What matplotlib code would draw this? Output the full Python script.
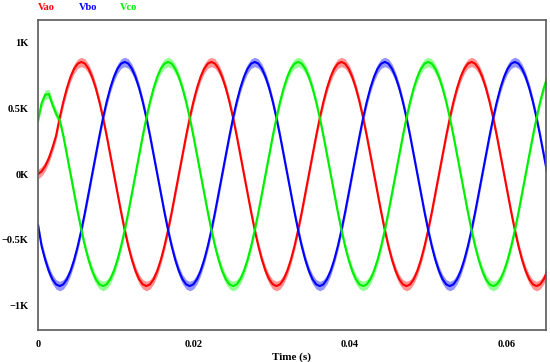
import matplotlib
matplotlib.use("Agg")
import matplotlib.pyplot as plt
import numpy as np

# sample times: every 1/2160 s (10 electrical degrees at 60 Hz)
n_samples = 142
dt = 1.0 / 2160.0

vao = [0, 20, 60, 120, 200, 292, 428, 550, 655, 740, 803, 842,
       855, 842, 803, 740, 655, 550, 428, 292, 148, 0, -148, -292, -428, -550, -655, -740, -803, -842, -855, -842, -803, -740, -655, -550, -428, -292, -148, 0, 148, 292, 428, 550, 655, 740, 803, 842,
       855, 842, 803, 740, 655, 550, 428, 292, 148, 0, -148, -292, -428, -550, -655, -740, -803, -842, -855, -842, -803, -740, -655, -550, -428, -292, -148, 0, 148, 292, 428, 550, 655, 740, 803, 842,
       855, 842, 803, 740, 655, 550, 428, 292, 148, 0, -148, -292, -428, -550, -655, -740, -803, -842, -855, -842, -803, -740, -655, -550, -428, -292, -148, 0, 148, 292, 428, 550, 655, 740, 803, 842,
       855, 842, 803, 740, 655, 550, 428, 292, 148, 0, -148, -292, -428, -550, -655, -740, -803, -842, -855, -842, -803, -740]

vbo = [-390, -550, -655, -740, -803, -842, -855, -842, -803, -740, -655, -550, -428, -292, -148, 0, 148, 292, 428, 550, 655, 740, 803, 842,
       855, 842, 803, 740, 655, 550, 428, 292, 148, 0, -148, -292, -428, -550, -655, -740, -803, -842, -855, -842, -803, -740, -655, -550, -428, -292, -148, 0, 148, 292, 428, 550, 655, 740, 803, 842,
       855, 842, 803, 740, 655, 550, 428, 292, 148, 0, -148, -292, -428, -550, -655, -740, -803, -842, -855, -842, -803, -740, -655, -550, -428, -292, -148, 0, 148, 292, 428, 550, 655, 740, 803, 842,
       855, 842, 803, 740, 655, 550, 428, 292, 148, 0, -148, -292, -428, -550, -655, -740, -803, -842, -855, -842, -803, -740, -655, -550, -428, -292, -148, 0, 148, 292, 428, 550, 655, 740, 803, 842,
       855, 842, 803, 740, 655, 550, 428, 292, 148, 0]

vco = [410, 540, 605, 610, 530, 460, 410,
       292, 148, 0, -148, -292, -428, -550, -655, -740, -803, -842, -855, -842, -803, -740, -655, -550, -428, -292, -148, 0, 148, 292, 428, 550, 655, 740, 803, 842,
       855, 842, 803, 740, 655, 550, 428, 292, 148, 0, -148, -292, -428, -550, -655, -740, -803, -842, -855, -842, -803, -740, -655, -550, -428, -292, -148, 0, 148, 292, 428, 550, 655, 740, 803, 842,
       855, 842, 803, 740, 655, 550, 428, 292, 148, 0, -148, -292, -428, -550, -655, -740, -803, -842, -855, -842, -803, -740, -655, -550, -428, -292, -148, 0, 148, 292, 428, 550, 655, 740, 803, 842,
       855, 842, 803, 740, 655, 550, 428, 292, 148, 0, -148, -292, -428, -550, -655, -740, -803, -842, -855, -842, -803, -740, -655, -550, -428, -292, -148, 0, 148, 292, 428, 550, 655, 740]

ripple = 36  # half-width of switching ripple band (V)

series_names = ["Vao", "Vbo", "Vco"]
series_values = [vao, vbo, vco]
line_colors = ["#FF0000", "#0000FF", "#00EE00"]
band_colors = ["#FF8080", "#8080FF", "#80FF80"]

xticks = [0, 0.02, 0.04, 0.06]
xtick_labels = ["0", "0.02", "0.04", "0.06"]
yticks = [-1000, -500, 0, 500, 1000]
ytick_labels = ["\u22121K", "\u22120.5K", "0K", "0.5K", "1K"]

t = np.arange(n_samples) * dt

fig = plt.figure(figsize=(5.5, 3.62), dpi=100)
ax = fig.add_axes([0.0691, 0.0884, 0.9236, 0.8564])

serif = ["Liberation Serif", "DejaVu Serif"]

for vals, lc, bc in zip(series_values, line_colors, band_colors):
    v = np.array(vals, dtype=float)
    ax.fill_between(t, v - ripple, v + ripple, color=bc, lw=0, alpha=0.85)
for vals, lc in zip(series_values, line_colors):
    v = np.array(vals, dtype=float)
    ax.plot(t, v, color=lc, lw=1.5)

ax.set_xlim(0, 0.0651)
ax.set_ylim(-1190, 1175)
ax.set_xticks(xticks)
ax.set_xticklabels(xtick_labels, fontfamily=serif, fontweight="bold", fontsize=7.5)
ax.set_yticks(yticks)
ax.set_yticklabels(ytick_labels, fontfamily=serif, fontweight="bold", fontsize=7.5)
ax.tick_params(axis="both", length=0)
ax.tick_params(axis="x", pad=7)
ax.tick_params(axis="y", pad=7)
for s in ax.spines.values():
    s.set_color("#5a5a5a")
    s.set_linewidth(1.2)

ax.set_xlabel("Time (s)", fontfamily=serif, fontweight="bold", fontsize=8, labelpad=3)

legend_x = [46, 88, 129]
for name, lc, xp in zip(series_names, line_colors, legend_x):
    fig.text(xp / 550, 1 - 8 / 362, name, color=lc, fontfamily=serif,
             fontweight="bold", fontsize=7.5, ha="center", va="center")

fig.savefig("out.png", dpi=100)
